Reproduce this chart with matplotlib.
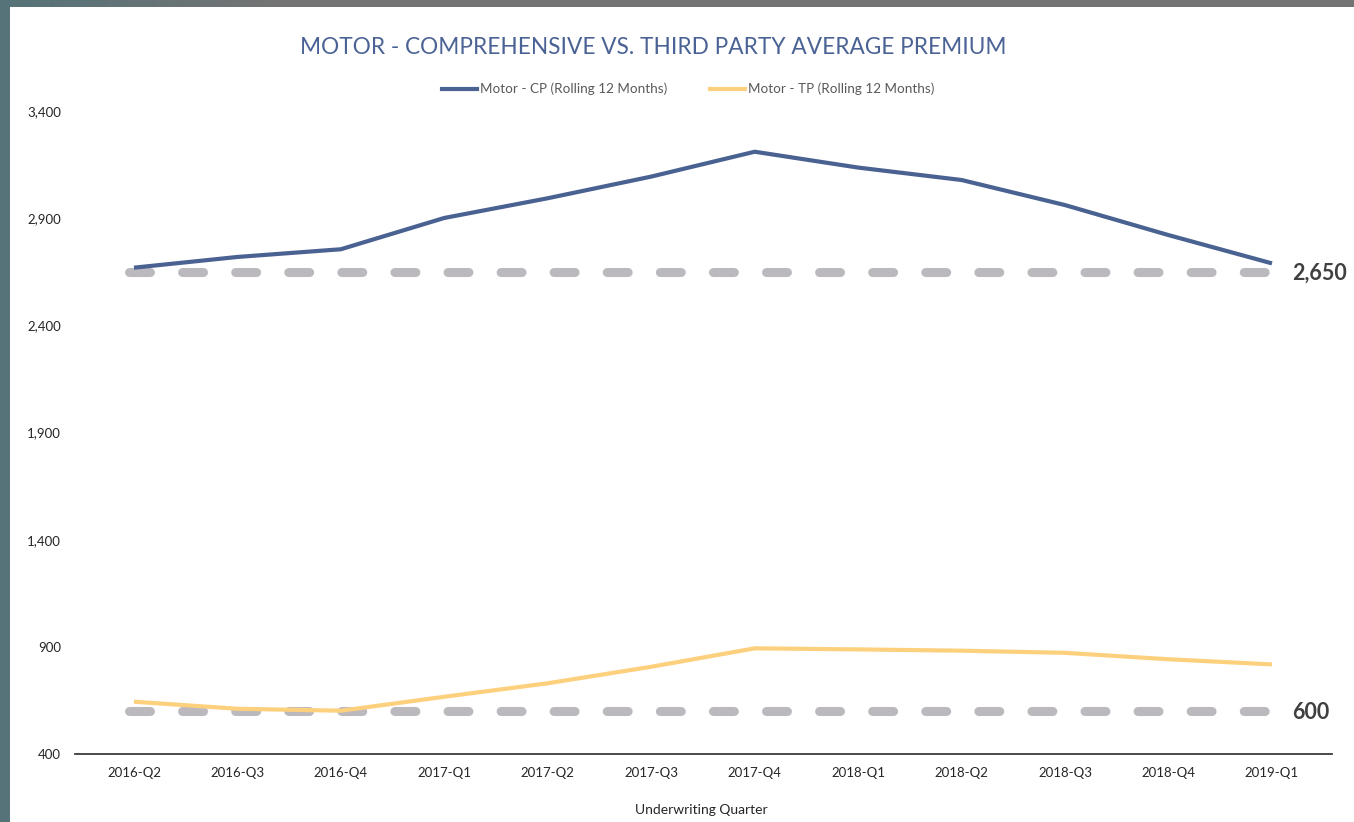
import numpy as np
import matplotlib
matplotlib.use("Agg")
import matplotlib.pyplot as plt
from matplotlib.lines import Line2D

# ---- data -------------------------------------------------------------
quarters = ["2016-Q2", "2016-Q3", "2016-Q4", "2017-Q1", "2017-Q2", "2017-Q3",
            "2017-Q4", "2018-Q1", "2018-Q2", "2018-Q3", "2018-Q4", "2019-Q1"]
cp_premium = [2669, 2719, 2755, 2901, 2993, 3094, 3210, 3136, 3078, 2961, 2821, 2689]
tp_premium = [644, 611, 602, 667, 730, 807, 893, 888, 882, 872, 842, 818]
cp_reference = 2650
tp_reference = 600
y_ticks = [400, 900, 1400, 1900, 2400, 2900, 3400]

# ---- style ------------------------------------------------------------
plt.rcParams["font.family"] = ["Lato", "DejaVu Sans"]
CP_COLOR = "#4a6291"
TP_COLOR = "#fdd07e"
REF_COLOR = "#bbb9bd"
TEXT_DARK = "#404040"
TITLE_COLOR = "#4a6294"

W, H = 1354, 822
fig = plt.figure(figsize=(W / 100, H / 100), dpi=100)
fig.patch.set_facecolor("white")


def fx(px):
    return px / W


def fy(py):
    return 1 - py / H


# frame strips around the canvas
left_strip = fig.add_axes([0, 0, fx(10), 1])
left_strip.axis("off")
left_strip.add_patch(plt.Rectangle((0, 0), 1, 1, color="#557379",
                                   transform=left_strip.transAxes))
top_strip = fig.add_axes([0, fy(7), 1, 7 / H])
grad = np.linspace(0, 1, 400)
c0 = np.array([0x55, 0x73, 0x79]) / 255
c1 = np.array([0x73, 0x73, 0x73]) / 255
mix = np.clip(grad * 5, 0, 1)[:, None]
top_strip.imshow((c0 * (1 - mix) + c1 * mix)[None, :, :], aspect="auto",
                 extent=[0, 1, 0, 1])
top_strip.axis("off")

# ---- main axes --------------------------------------------------------
ax = fig.add_axes([fx(75), 68 / H, (1332 - 75) / W, (754 - 111) / H])
x = np.arange(len(quarters))

ax.plot(x, cp_premium, color=CP_COLOR, lw=3.0, solid_capstyle="butt",
        solid_joinstyle="round", zorder=4)
ax.plot(x, tp_premium, color=TP_COLOR, lw=3.0, solid_capstyle="butt",
        solid_joinstyle="round", zorder=3)

ref_x = [-0.044, 11.03]
for val in (cp_reference, tp_reference):
    ax.plot(ref_x, [val, val], color=REF_COLOR, lw=6.5,
            dash_capstyle="round", linestyle=(0, (2.32, 3.56)), zorder=2)
    ax.annotate(f"{val:,}", xy=(11, val), xytext=(14.5, -1),
                textcoords="offset points", ha="left", va="center",
                fontsize=15.5, fontweight="bold", color=TEXT_DARK,
                annotation_clip=False)

ax.set_xlim(-0.57, 11.58)
ax.set_ylim(400, 3400)
ax.set_xticks(x)
ax.set_xticklabels(quarters)
ax.set_yticks(y_ticks)
ax.set_yticklabels([f"{v:,}" for v in y_ticks])
ax.tick_params(axis="both", length=0, labelsize=9.5, colors="#262626")
ax.tick_params(axis="x", pad=9)
ax.tick_params(axis="y", pad=10)
for side in ("top", "right", "left"):
    ax.spines[side].set_visible(False)
ax.spines["bottom"].set_color("#3a3a3a")
ax.spines["bottom"].set_linewidth(1.3)
ax.set_facecolor("none")

# ---- text ---------------------------------------------------------------
fig.text(fx(653), fy(47), "MOTOR - COMPREHENSIVE VS. THIRD PARTY AVERAGE PREMIUM",
         ha="center", va="center", fontsize=16.3, color=TITLE_COLOR)
fig.text(fx(701), fy(810), "Underwriting Quarter", ha="center", va="center",
         fontsize=10, color="#262626")

handles = [Line2D([], [], color=CP_COLOR, lw=3.0),
           Line2D([], [], color=TP_COLOR, lw=3.0)]
fig.legend(handles, ["Motor - CP (Rolling 12 Months)", "Motor - TP (Rolling 12 Months)"],
           loc="center", bbox_to_anchor=(fx(688), fy(89)), ncol=2, frameon=False,
           fontsize=9.7, handlelength=2.6, handletextpad=0.2, columnspacing=3.2,
           labelcolor="#595959")

fig.savefig("out.png", dpi=100)
